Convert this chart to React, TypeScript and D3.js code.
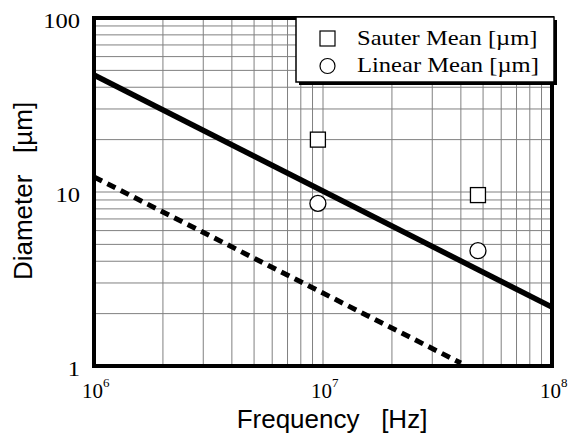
import * as d3 from "d3";

const sauterFreq = [9.5e6, 4.75e7];
const sauterDiam = [20, 9.6];
const linearFreq = [9.5e6, 4.75e7];
const linearDiam = [8.6, 4.6];
const fitFreq = [1e6, 1e8];
const fitDiam = [47, 2.18];
const dashFreq = [1e6, 4e7];
const dashDiam = [12.2, 1.04];
const xTickExps = [6, 7, 8];
const yTickValues = [1, 10, 100];
const legendLabels = ["Sauter Mean [\u00b5m]", "Linear Mean [\u00b5m]"];

const width = 570;
const height = 437;
const margin = { top: 18, right: 18, bottom: 71, left: 94 };
const serif = "'Liberation Serif', 'Times New Roman', serif";
const sans = "'Liberation Sans', Arial, sans-serif";

export default function App() {
  const x = d3
    .scaleLog()
    .domain([1e6, 1e8])
    .range([margin.left, width - margin.right]);
  const y = d3
    .scaleLog()
    .domain([1, 100])
    .range([height - margin.bottom, margin.top]);

  const [x0, x1] = x.range();
  const [y0, y1] = y.range();

  // minor grid: 1..9 in each decade
  const xGrid: number[] = [];
  for (let e = 6; e < 8; e++) for (let m = 1; m < 10; m++) xGrid.push(m * 10 ** e);
  const yGrid: number[] = [];
  for (let e = 0; e < 2; e++) for (let m = 1; m < 10; m++) yGrid.push(m * 10 ** e);

  const line = d3
    .line<[number, number]>()
    .x((d) => x(d[0]))
    .y((d) => y(d[1]));
  const fit = line(fitFreq.map((f, i) => [f, fitDiam[i]]));
  const dash = line(dashFreq.map((f, i) => [f, dashDiam[i]]));

  const sq = 15;

  return (
    <svg
      width={width}
      height={height}
      style={{ position: "absolute", left: 0, top: 0, background: "#fff" }}
    >
      <g stroke="#808080" strokeWidth={1}>
        {xGrid.map((v) => (
          <line key={`x${v}`} x1={x(v)} x2={x(v)} y1={y1} y2={y0} />
        ))}
        {yGrid.map((v) => (
          <line key={`y${v}`} x1={x0} x2={x1} y1={y(v)} y2={y(v)} />
        ))}
      </g>

      <path d={dash ?? ""} fill="none" stroke="#000" strokeWidth={5} strokeDasharray="9,6" />
      <path d={fit ?? ""} fill="none" stroke="#000" strokeWidth={5.5} />

      {sauterFreq.map((f, i) => (
        <rect
          key={`s${i}`}
          x={x(f) - sq / 2}
          y={y(sauterDiam[i]) - sq / 2}
          width={sq}
          height={sq}
          fill="#fff"
          stroke="#000"
          strokeWidth={1.3}
        />
      ))}
      {linearFreq.map((f, i) => (
        <circle
          key={`l${i}`}
          cx={x(f)}
          cy={y(linearDiam[i])}
          r={8}
          fill="#fff"
          stroke="#000"
          strokeWidth={1.3}
        />
      ))}

      <rect
        x={x0}
        y={y1}
        width={x1 - x0}
        height={y0 - y1}
        fill="none"
        stroke="#000"
        strokeWidth={4}
      />

      {/* legend */}
      <g>
        <rect x={299} y={20} width={258} height={65} fill="#000" />
        <rect x={296} y={17} width={258} height={65} fill="#fff" stroke="#000" strokeWidth={1.5} />
        <rect x={320} y={31} width={15} height={15} fill="#fff" stroke="#000" strokeWidth={1.2} />
        <circle cx={327.5} cy={66} r={7.5} fill="#fff" stroke="#000" strokeWidth={1.2} />
        {legendLabels.map((t, i) => (
          <text
            key={t}
            transform={`translate(357,${45 + i * 27}) scale(1.17,1)`}
            fontFamily={serif}
            fontSize={21}
          >
            {t}
          </text>
        ))}
      </g>

      {/* y tick labels */}
      {yTickValues.map((v) => (
        <text
          key={v}
          transform={`translate(80,${y(v) + 10}) scale(1.17,1)`}
          textAnchor="end"
          fontFamily={serif}
          fontSize={21}
        >
          {v}
        </text>
      ))}

      {/* x tick labels */}
      {xTickExps.map((e) => (
        <text
          key={e}
          x={x(10 ** e) - 12}
          y={398}
          fontFamily={serif}
          fontSize={21}
        >
          10
          <tspan fontSize={13} dy={-11}>
            {e}
          </tspan>
        </text>
      ))}

      <text
        x={332}
        y={428}
        textAnchor="middle"
        fontFamily={sans}
        fontSize={26}
        style={{ whiteSpace: "pre" }}
      >
        {"Frequency   [Hz]"}
      </text>
      <text
        transform="translate(32,191) rotate(-90)"
        textAnchor="middle"
        fontFamily={sans}
        fontSize={26}
        style={{ whiteSpace: "pre" }}
      >
        {"Diameter   [\u00b5m]"}
      </text>
    </svg>
  );
}
